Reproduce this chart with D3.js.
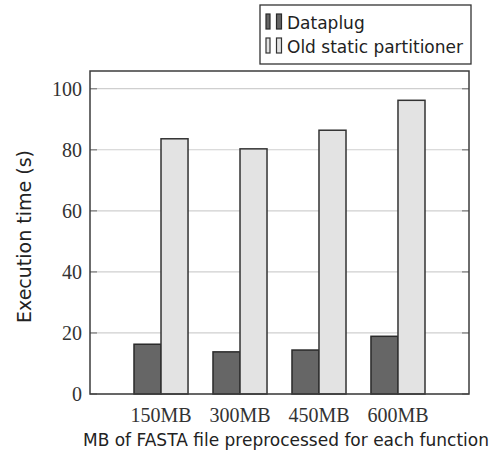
<!DOCTYPE html>
<html>
<head>
<meta charset="utf-8">
<script src="https://cdn.jsdelivr.net/npm/d3@7"></script>
<style>
  html, body { margin: 0; padding: 0; background: #fff; }
  svg { display: block; }
</style>
</head>
<body>
<svg id="chart" width="491" height="455"></svg>
<script>
// Execution time per function for each FASTA chunk size
const categories = ["150MB", "300MB", "450MB", "600MB"];
const seriesNames = ["Dataplug", "Old static partitioner"];
const dataplug = [16.3, 13.8, 14.4, 18.9];
const oldPartitioner = [83.6, 80.3, 86.4, 96.2];
const yTicks = [0, 20, 40, 60, 80, 100];

const seriesValues = [dataplug, oldPartitioner];
const fills = ["#666666", "#e3e3e3"];
const strokes = ["#2a2a2a", "#333333"];

const svg = d3.select("#chart");
const plot = { left: 90, right: 469, top: 71, bottom: 394 };

const x0 = d3.scaleBand()
  .domain(categories)
  .range([plot.left, plot.right])
  .paddingInner(0.316)
  .paddingOuter(0.557);

const x1 = d3.scaleBand()
  .domain(seriesNames)
  .range([0, x0.bandwidth()])
  .padding(0);

const y = d3.scaleLinear()
  .domain([0, 105.8])
  .range([plot.bottom, plot.top]);

// horizontal grid lines
svg.append("g")
  .selectAll("line")
  .data(yTicks)
  .join("line")
  .attr("x1", plot.left)
  .attr("x2", plot.right)
  .attr("y1", d => y(d))
  .attr("y2", d => y(d))
  .attr("stroke", "#cfcfcf")
  .attr("stroke-width", 1.2);

// inner tick marks on both sides
const tickG = svg.append("g");
tickG.selectAll("line.l")
  .data(yTicks)
  .join("line")
  .attr("class", "l")
  .attr("x1", plot.left).attr("x2", plot.left + 7)
  .attr("y1", d => y(d)).attr("y2", d => y(d))
  .attr("stroke", "#8a8a8a").attr("stroke-width", 1.4);
tickG.selectAll("line.r")
  .data(yTicks)
  .join("line")
  .attr("class", "r")
  .attr("x1", plot.right - 7).attr("x2", plot.right)
  .attr("y1", d => y(d)).attr("y2", d => y(d))
  .attr("stroke", "#8a8a8a").attr("stroke-width", 1.4);

// bars
const groups = svg.append("g")
  .selectAll("g")
  .data(categories)
  .join("g")
  .attr("transform", d => `translate(${x0(d)},0)`);

groups.selectAll("rect")
  .data((d, i) => seriesNames.map((s, k) => ({ s, k, v: seriesValues[k][i] })))
  .join("rect")
  .attr("x", d => x1(d.s))
  .attr("width", x1.bandwidth())
  .attr("y", d => y(d.v))
  .attr("height", d => y(0) - y(d.v))
  .attr("fill", d => fills[d.k])
  .attr("stroke", d => strokes[d.k])
  .attr("stroke-width", 1.5);

// plot frame
svg.append("rect")
  .attr("x", plot.left)
  .attr("y", plot.top)
  .attr("width", plot.right - plot.left)
  .attr("height", plot.bottom - plot.top)
  .attr("fill", "none")
  .attr("stroke", "#3c3c3c")
  .attr("stroke-width", 1.5);

// y tick labels
const yAxis = d3.axisLeft(y).tickValues(yTicks).tickSize(0).tickPadding(8);
const yg = svg.append("g")
  .attr("transform", `translate(${plot.left},0)`)
  .call(yAxis);
yg.select(".domain").remove();
yg.selectAll("text")
  .attr("font-family", "'Liberation Serif', serif")
  .attr("font-size", 20)
  .attr("fill", "#333");

// x tick labels
const xAxis = d3.axisBottom(x0).tickSize(0).tickPadding(14);
const xg = svg.append("g")
  .attr("transform", `translate(0,${plot.bottom})`)
  .call(xAxis);
xg.select(".domain").remove();
xg.selectAll("text")
  .attr("font-family", "'Liberation Serif', serif")
  .attr("font-size", 20)
  .attr("fill", "#333");

// axis titles
svg.append("text")
  .attr("transform", `translate(31,${(plot.top + plot.bottom) / 2 + 4}) rotate(-90)`)
  .attr("text-anchor", "middle")
  .attr("font-family", "'DejaVu Sans', sans-serif")
  .attr("font-size", 19)
  .attr("fill", "#222")
  .text("Execution time (s)");

svg.append("text")
  .attr("x", 286)
  .attr("y", 446)
  .attr("text-anchor", "middle")
  .attr("font-family", "'DejaVu Sans', sans-serif")
  .attr("font-size", 17)
  .attr("fill", "#222")
  .text("MB of FASTA file preprocessed for each function");

// legend
const legend = svg.append("g");
legend.append("rect")
  .attr("x", 260).attr("y", 5)
  .attr("width", 211).attr("height", 59)
  .attr("fill", "#fff")
  .attr("stroke", "#333")
  .attr("stroke-width", 1.3);

const rowY = [22, 46];
seriesNames.forEach((name, k) => {
  const row = legend.append("g").attr("transform", `translate(0,${rowY[k]})`);
  [[266, 4], [276.5, 5]].forEach(([bx, bw]) => {
    row.append("rect")
      .attr("x", bx).attr("y", -8)
      .attr("width", bw).attr("height", 15)
      .attr("fill", fills[k])
      .attr("stroke", strokes[k])
      .attr("stroke-width", 1.2);
  });
  row.append("text")
    .attr("x", 287)
    .attr("y", 6.5)
    .attr("font-family", "'DejaVu Sans', sans-serif")
    .attr("font-size", 17)
    .attr("fill", "#222")
    .text(name);
});
</script>
</body>
</html>
